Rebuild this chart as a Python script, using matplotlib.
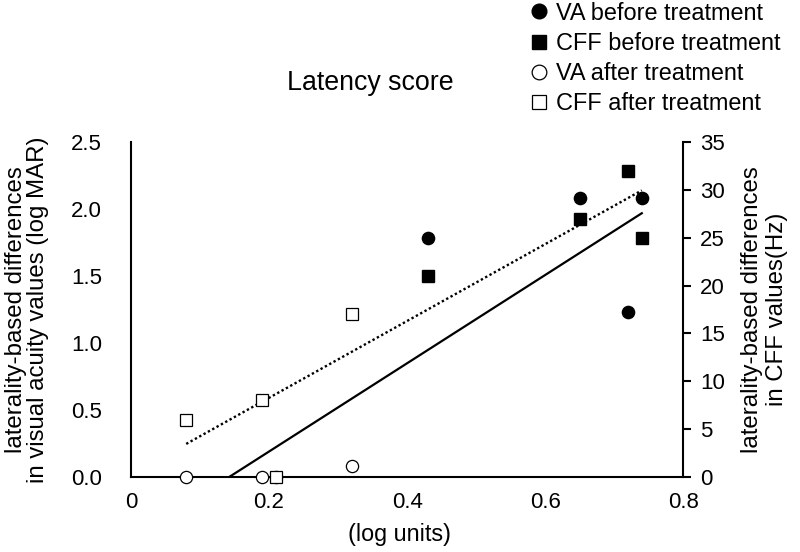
import numpy as np
import matplotlib
matplotlib.use("Agg")
import matplotlib.pyplot as plt

plt.rcParams["font.family"] = ["Liberation Sans", "DejaVu Sans"]

# VA (left axis, log MAR) and CFF (right axis, Hz) against latency score
va_before_x = [0.43, 0.65, 0.74, 0.72]
va_before_y = [1.78, 2.08, 2.08, 1.23]
cff_before_x = [0.43, 0.65, 0.72, 0.74]
cff_before_y = [21, 27, 32, 25]
va_after_x = [0.08, 0.19, 0.21, 0.32]
va_after_y = [0.0, 0.0, 0.0, 0.08]
cff_after_x = [0.08, 0.19, 0.21, 0.32]
cff_after_y = [6, 8, 0, 17]

x_ticks = [0, 0.2, 0.4, 0.6, 0.8]
x_tick_labels = ["0", "0.2", "0.4", "0.6", "0.8"]
va_ticks = [0.0, 0.5, 1.0, 1.5, 2.0, 2.5]
cff_ticks = [0, 5, 10, 15, 20, 25, 30, 35]

TICK_FS = 16
LABEL_FS = 17.3

fig = plt.figure(figsize=(8, 5.52), dpi=100)
ax = fig.add_axes([0.16375, 0.1359, 0.69025, 0.6069])
ax2 = ax.twinx()

# trend lines through before + after data
va_x = np.array(va_before_x + va_after_x)
va_y = np.array(va_before_y + va_after_y)
cff_x = np.array(cff_before_x + cff_after_x)
cff_y = np.array(cff_before_y + cff_after_y)

k, b = np.polyfit(va_x, va_y, 1)
xs = np.array([va_x.min(), va_x.max()])
ax.plot(xs, k * xs + b, color="black", lw=1.6, zorder=2)

k2, b2 = np.polyfit(cff_x, cff_y, 1)
xs2 = np.array([cff_x.min(), cff_x.max()])
ax2.plot(xs2, k2 * xs2 + b2, color="black", lw=1.7, ls=(0, (1, 1.1)), zorder=2)

ms = 8.8
h1, = ax.plot(va_before_x, va_before_y, "o", color="black", ms=ms, zorder=3,
              label="VA before treatment")
h2, = ax2.plot(cff_before_x, cff_before_y, "s", color="black", ms=ms - 0.6, zorder=3,
               label="CFF before treatment")
h3, = ax.plot(va_after_x, va_after_y, "o", mfc="white", mec="black", mew=0.9, ms=ms,
              zorder=3, clip_on=False, label="VA after treatment")
h4, = ax2.plot(cff_after_x, cff_after_y, "s", mfc="white", mec="black", mew=0.9,
               ms=ms - 0.6, zorder=4, clip_on=False, label="CFF after treatment")

ax.set_xlim(0, 0.8)
ax.set_ylim(0, 2.5)
ax2.set_ylim(0, 35)

ax.set_xticks(x_ticks)
ax.set_xticklabels(x_tick_labels)
ax.set_yticks(va_ticks)
ax.set_yticklabels([f"{v:.1f}" for v in va_ticks])
ax2.set_yticks(cff_ticks)

ax.tick_params(axis="x", length=0, pad=11, labelsize=TICK_FS)
ax.tick_params(axis="y", length=0, pad=21, labelsize=TICK_FS)
ax2.tick_params(axis="y", length=6, width=1.5, direction="out", pad=6,
                labelsize=TICK_FS)

for a in (ax, ax2):
    a.spines["top"].set_visible(False)
    for s in a.spines.values():
        s.set_linewidth(1.5)
ax.spines["right"].set_visible(False)
ax2.spines["left"].set_visible(False)
ax2.spines["bottom"].set_visible(False)

ax.set_xlabel("(log units)", fontsize=16.8, labelpad=7, x=0.487)
ax.set_ylabel("laterality-based differences\nin visual acuity values (log MAR)",
              fontsize=LABEL_FS, labelpad=16, linespacing=0.98)
ax2.set_ylabel("laterality-based differences\nin CFF values(Hz)",
               fontsize=LABEL_FS, labelpad=12, linespacing=1.15, rotation=90)

fig.text(0.4625, 0.85, "Latency score", fontsize=19.3, ha="center", va="center")

fig.legend(handles=[h1, h2, h3, h4], loc="upper left",
           bbox_to_anchor=(0.6625, 0.997), frameon=False, fontsize=16.9,
           handlelength=0.8, handletextpad=0.3, labelspacing=0.31,
           borderpad=0.0, borderaxespad=0.0, markerscale=1.2)

fig.savefig("out.png", dpi=100)
